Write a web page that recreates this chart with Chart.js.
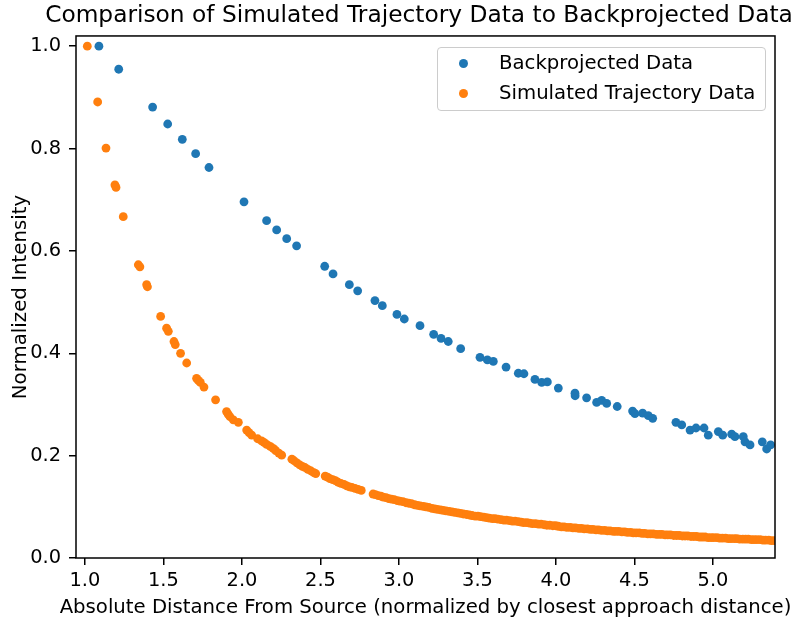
<!DOCTYPE html>
<html>
<head>
<meta charset="utf-8">
<title>Simulated Trajectory Data vs Backprojected Data</title>
<script src="https://cdn.jsdelivr.net/npm/chart.js@4.4.1/dist/chart.umd.min.js"></script>
<style>
    html, body { margin: 0; padding: 0; background: #fff; overflow: hidden; }
    #wrap { position: relative; width: 838px; height: 620px; }
    #legend {
        position: absolute; left: 437px; top: 47px; width: 327px; height: 62px;
        border: 1px solid #cccccc; border-radius: 4px; background: rgba(255,255,255,0.8);
        font-family: 'DejaVu Sans', sans-serif; font-size: 19.7px; color: #000;
    }
    .item { position: absolute; left: 0; width: 100%; height: 30px; line-height: 30px; white-space: nowrap; }
    .dot { position: absolute; left: 21px; top: 10.5px; width: 9px; height: 9px; border-radius: 50%; }
    .lbl { position: absolute; left: 61px; top: 0; }
</style>
</head>
<body>
<div id="wrap">
    <canvas id="chart"></canvas>
    <div id="legend"></div>
</div>
<script>
const FONT = 'DejaVu Sans';
const X_LABEL = 'Absolute Distance From Source (normalized by closest approach distance)';

// x / y tick values
const xTicks = [1.0, 1.5, 2.0, 2.5, 3.0, 3.5, 4.0, 4.5, 5.0];
const yTicks = [0.0, 0.2, 0.4, 0.6, 0.8, 1.0];

// Backprojected Data
const backX = [1.089, 1.215, 1.431, 1.527, 1.620, 1.705, 1.790, 2.013, 2.157, 2.221, 2.285, 2.348,
    2.527, 2.580, 2.684, 2.737, 2.847, 2.894, 2.987, 3.034, 3.134, 3.221, 3.268, 3.314, 3.393,
    3.516, 3.563, 3.601, 3.682, 3.760, 3.796, 3.866, 3.909, 3.945, 4.015, 4.121, 4.122, 4.195,
    4.259, 4.291, 4.323, 4.390, 4.488, 4.503, 4.552, 4.588, 4.616, 4.764, 4.801, 4.854, 4.892,
    4.943, 4.970, 5.034, 5.062, 5.119, 5.140, 5.193, 5.204, 5.236, 5.314, 5.342, 5.367];
const backY = [1.000, 0.955, 0.881, 0.848, 0.818, 0.790, 0.763, 0.696, 0.659, 0.641, 0.624, 0.610,
    0.570, 0.555, 0.534, 0.522, 0.503, 0.493, 0.476, 0.467, 0.454, 0.437, 0.429, 0.423, 0.409,
    0.392, 0.387, 0.384, 0.373, 0.361, 0.360, 0.349, 0.343, 0.344, 0.332, 0.322, 0.317, 0.313,
    0.304, 0.308, 0.302, 0.296, 0.287, 0.282, 0.283, 0.278, 0.273, 0.265, 0.260, 0.250, 0.254,
    0.254, 0.240, 0.247, 0.240, 0.242, 0.237, 0.237, 0.227, 0.221, 0.227, 0.213, 0.221];

// Simulated Trajectory Data
const simX = [1.015, 1.081, 1.134, 1.191, 1.198, 1.244, 1.340, 1.350, 1.393, 1.398, 1.482, 1.520,
    1.531, 1.567, 1.575, 1.609, 1.648, 1.711, 1.722, 1.735, 1.758, 1.832, 1.902, 1.912, 1.924,
    1.945, 1.977, 2.030, 2.045, 2.062, 2.100, 2.125, 2.140, 2.157, 2.180, 2.199, 2.215, 2.235,
    2.253, 2.318, 2.332, 2.350, 2.368, 2.385, 2.400, 2.420, 2.440, 2.458, 2.470, 2.530, 2.545,
    2.560, 2.578, 2.595, 2.612, 2.630, 2.650, 2.668, 2.685, 2.700, 2.720, 2.740, 2.760, 2.835,
    2.850, 2.868, 2.885, 2.900, 2.918, 2.935, 2.952, 2.970, 2.990, 3.005, 3.025, 3.045, 3.062,
    3.080, 3.100, 3.118, 3.135, 3.155, 3.172, 3.190, 3.210, 3.228, 3.245, 3.265, 3.282, 3.300,
    3.320, 3.338, 3.355, 3.375, 3.392, 3.410, 3.430, 3.448, 3.465, 3.485, 3.503, 3.520, 3.540,
    3.558, 3.575, 3.595, 3.612, 3.630, 3.650, 3.668, 3.685, 3.705, 3.722, 3.740, 3.760, 3.778,
    3.795, 3.815, 3.832, 3.850, 3.870, 3.888, 3.905, 3.925, 3.942, 3.960, 3.980, 3.998, 4.015,
    4.035, 4.052, 4.070, 4.090, 4.108, 4.125, 4.145, 4.162, 4.180, 4.200, 4.218, 4.235, 4.255,
    4.272, 4.290, 4.310, 4.328, 4.345, 4.365, 4.382, 4.400, 4.420, 4.438, 4.455, 4.475, 4.492,
    4.510, 4.530, 4.548, 4.565, 4.585, 4.602, 4.620, 4.640, 4.658, 4.675, 4.695, 4.712, 4.730,
    4.750, 4.768, 4.785, 4.805, 4.822, 4.840, 4.860, 4.878, 4.895, 4.915, 4.932, 4.950, 4.970,
    4.988, 5.005, 5.025, 5.042, 5.060, 5.080, 5.098, 5.115, 5.135, 5.152, 5.170, 5.190, 5.208,
    5.225, 5.245, 5.262, 5.280, 5.300, 5.318, 5.335, 5.355, 5.372, 5.390];
const simY = [1.000, 0.891, 0.801, 0.729, 0.724, 0.667, 0.573, 0.569, 0.534, 0.530, 0.472, 0.449,
    0.443, 0.423, 0.417, 0.400, 0.381, 0.351, 0.347, 0.343, 0.334, 0.309, 0.286, 0.281, 0.276,
    0.270, 0.265, 0.250, 0.245, 0.240, 0.233, 0.229, 0.226, 0.222, 0.218, 0.214, 0.210, 0.205,
    0.201, 0.193, 0.190, 0.186, 0.182, 0.179, 0.177, 0.173, 0.170, 0.167, 0.165, 0.160, 0.158,
    0.155, 0.153, 0.151, 0.148, 0.146, 0.144, 0.141, 0.139, 0.138, 0.136, 0.134, 0.132, 0.125,
    0.124, 0.122, 0.121, 0.119, 0.118, 0.116, 0.115, 0.114, 0.112, 0.111, 0.110, 0.108, 0.107,
    0.106, 0.104, 0.103, 0.102, 0.101, 0.100, 0.099, 0.097, 0.096, 0.095, 0.094, 0.093, 0.092,
    0.091, 0.090, 0.089, 0.088, 0.087, 0.086, 0.085, 0.084, 0.083, 0.082, 0.082, 0.081, 0.080,
    0.079, 0.078, 0.077, 0.077, 0.076, 0.075, 0.074, 0.074, 0.073, 0.072, 0.072, 0.071, 0.070,
    0.069, 0.069, 0.068, 0.067, 0.067, 0.066, 0.066, 0.065, 0.064, 0.064, 0.063, 0.063, 0.062,
    0.061, 0.061, 0.060, 0.060, 0.059, 0.059, 0.058, 0.058, 0.057, 0.057, 0.056, 0.056, 0.055,
    0.055, 0.054, 0.054, 0.053, 0.053, 0.052, 0.052, 0.052, 0.051, 0.051, 0.050, 0.050, 0.049,
    0.049, 0.049, 0.048, 0.048, 0.047, 0.047, 0.047, 0.046, 0.046, 0.046, 0.045, 0.045, 0.045,
    0.044, 0.044, 0.044, 0.043, 0.043, 0.043, 0.042, 0.042, 0.042, 0.041, 0.041, 0.041, 0.040,
    0.040, 0.040, 0.040, 0.039, 0.039, 0.039, 0.038, 0.038, 0.038, 0.038, 0.037, 0.037, 0.037,
    0.037, 0.036, 0.036, 0.036, 0.036, 0.035, 0.035, 0.035, 0.034, 0.034];

const pairs = (xs, ys) => xs.map((x, i) => ({ x: x, y: ys[i] }));

// top and right spines (Chart.js only draws the axis side)
const frame = {
    id: 'frame',
    afterDraw(chart) {
        const { ctx, chartArea: a } = chart;
        ctx.save();
        ctx.strokeStyle = '#000';
        ctx.lineWidth = 1.5;
        ctx.strokeRect(a.left, a.top, a.right - a.left, a.bottom - a.top);
        ctx.restore();
    }
};

// x axis label is wider than the plot; Chart.js would squeeze it to the axis width
const xLabel = {
    id: 'xLabel',
    afterDraw(chart) {
        const { ctx, chartArea: a } = chart;
        ctx.save();
        ctx.fillStyle = '#000';
        ctx.font = `19.7px "${FONT}"`;
        ctx.textAlign = 'center';
        ctx.textBaseline = 'alphabetic';
        ctx.fillText(X_LABEL, (a.left + a.right) / 2, 613);
        ctx.restore();
    }
};

const tickFont = { family: FONT, size: 19.4 };

const chart = new Chart(document.getElementById('chart'), {
    type: 'scatter',
    data: {
        datasets: [
            {
                label: 'Backprojected Data',
                data: pairs(backX, backY),
                backgroundColor: '#1f77b4',
                pointRadius: 4.4,
                borderWidth: 0
            },
            {
                label: 'Simulated Trajectory Data',
                data: pairs(simX, simY),
                backgroundColor: '#ff7f0e',
                pointRadius: 4.4,
                borderWidth: 0
            }
        ]
    },
    options: {
        responsive: true,
        maintainAspectRatio: false,
        animation: false,
        layout: { padding: 0 },
        plugins: {
            legend: { display: false },
            tooltip: { enabled: false },
            title: {
                display: true,
                text: 'Comparison of Simulated Trajectory Data to Backprojected Data',
                color: '#000',
                font: { family: FONT, size: 23.3, weight: 'normal' },
                padding: { top: 2, bottom: 6 }
            }
        },
        scales: {
            x: {
                type: 'linear',
                min: 0.943,
                max: 5.395,
                afterBuildTicks: s => { s.ticks = xTicks.map(v => ({ value: v })); },
                afterFit: s => { s.height = 62; },
                ticks: { color: '#000', font: tickFont, padding: 4, callback: v => v.toFixed(1) },
                grid: { drawOnChartArea: false, color: '#000', lineWidth: 1.5, tickLength: 7 },
                border: { display: false },
                title: { display: false }
            },
            y: {
                min: 0,
                max: 1.02,
                afterBuildTicks: s => { s.ticks = yTicks.map(v => ({ value: v })); },
                afterFit: s => { s.width = 76; },
                ticks: { color: '#000', font: tickFont, padding: 8, callback: v => v.toFixed(1) },
                grid: { drawOnChartArea: false, color: '#000', lineWidth: 1.5, tickLength: 7 },
                border: { display: false },
                title: {
                    display: true,
                    text: 'Normalized Intensity',
                    color: '#000',
                    font: { family: FONT, size: 19.8 },
                    padding: { top: 9, bottom: 0 }
                }
            },
            // empty right-hand box so the title centres like the original figure
            yRight: {
                position: 'right',
                display: true,
                afterFit: s => { s.width = 63; },
                ticks: { display: false },
                grid: { display: false },
                border: { display: false }
            }
        }
    },
    plugins: [frame, xLabel]
});

// legend drawn as html inside the plot, upper right
const legendBox = document.getElementById('legend');
legendBox.innerHTML = chart.data.datasets.map((ds, i) =>
    `<div class="item" style="top:${i * 30}px"><span class="dot" style="background:${ds.backgroundColor}"></span><span class="lbl">${ds.label}</span></div>`
).join('');
</script>
</body>
</html>
